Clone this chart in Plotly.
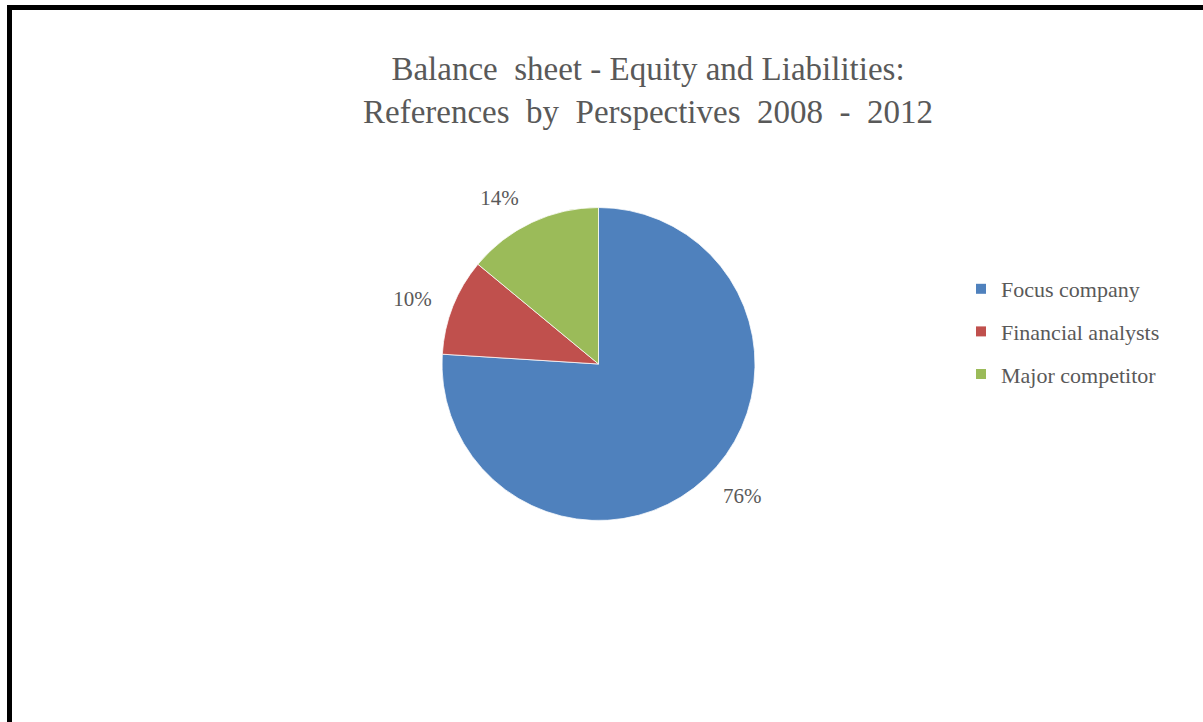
import plotly.graph_objects as go

# Share of references by perspective, 2008 - 2012
perspectives = ["Focus company", "Financial analysts", "Major competitor"]
shares = [76, 10, 14]
slice_colors = ["#4F81BD", "#C0504D", "#9BBB59"]

W, H = 1203, 722
TEXT_GREY = "#595959"
SERIF = "Liberation Serif, Times New Roman, serif"

# pie geometry (pixels)
CX, CY, R = 598.5, 364, 156.5
LABEL_R = 173  # outside labels sit on a slightly wider ring


def px(x):
    return x / W


def py(y):
    return 1 - y / H


def ring(r):
    return dict(x=[px(CX - r), px(CX + r)], y=[py(CY + r), py(CY - r)])


fig = go.Figure()

# invisible wider ring that carries the percentage labels
fig.add_trace(go.Pie(
    labels=perspectives,
    values=shares,
    sort=False,
    direction="clockwise",
    rotation=0,
    marker=dict(colors=["rgba(0,0,0,0)"] * len(shares), line=dict(width=0)),
    texttemplate="%{percent:.0%}",
    textposition="outside",
    outsidetextfont=dict(family=SERIF, size=21, color=TEXT_GREY),
    showlegend=False,
    hoverinfo="skip",
    domain=ring(LABEL_R),
))

# the visible pie
fig.add_trace(go.Pie(
    labels=perspectives,
    values=shares,
    sort=False,
    direction="clockwise",
    rotation=0,
    marker=dict(colors=slice_colors, line=dict(color="white", width=0.75)),
    textinfo="none",
    showlegend=False,
    hoverinfo="label+percent",
    domain=ring(R),
))

# Legend entries, one group each so they can be spaced apart
for name, col in zip(perspectives, slice_colors):
    fig.add_trace(go.Scatter(
        x=[None], y=[None], mode="markers", name=name, legendgroup=name,
        marker=dict(symbol="square", size=10, color=col),
    ))

fig.update_layout(
    width=W, height=H,
    margin=dict(l=0, r=0, t=0, b=0),
    paper_bgcolor="white",
    plot_bgcolor="white",
    xaxis=dict(visible=False),
    yaxis=dict(visible=False),
    title=dict(
        text="Balance  sheet - Equity and Liabilities:<br>References  by  Perspectives  2008  -  2012",
        font=dict(family=SERIF, size=33, color=TEXT_GREY),
        x=px(648), xanchor="center",
        y=py(80), yanchor="middle",
        yref="container", xref="container",
    ),
    legend=dict(
        x=px(961), xanchor="left",
        y=py(268), yanchor="top",
        font=dict(family=SERIF, size=22, color=TEXT_GREY),
        tracegroupgap=11,
        bgcolor="rgba(0,0,0,0)",
    ),
    shapes=[
        dict(type="line", xref="paper", yref="paper",
             x0=px(9.5), x1=px(9.5), y0=py(5), y1=0,
             line=dict(color="black", width=5)),
        dict(type="line", xref="paper", yref="paper",
             x0=px(7), x1=1, y0=py(7.5), y1=py(7.5),
             line=dict(color="black", width=5)),
    ],
)

fig.write_html("out.html")
